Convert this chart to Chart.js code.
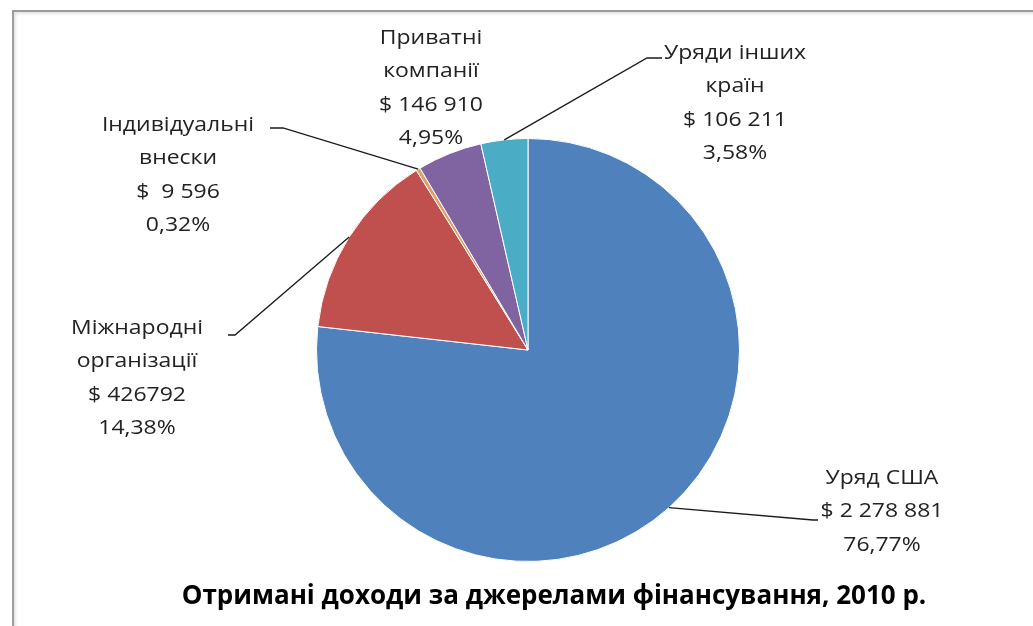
<!DOCTYPE html>
<html>
<head>
<meta charset="utf-8">
<script src="https://cdn.jsdelivr.net/npm/chart.js@4"></script>
<style>
  html, body { margin: 0; padding: 0; background: #fff; overflow: hidden; }
  #wrap { position: relative; width: 1033px; height: 626px; }
  #frame {
    position: absolute; left: 12px; top: 10px; width: 1100px; height: 700px;
    border-left: 2px solid #9c9c9c; border-top: 2px solid #9c9c9c;
    box-shadow: inset 2px 2px 3px #e4e4e4;
  }
  canvas { position: absolute; left: 0; top: 0; }
</style>
</head>
<body>
<div id="wrap">
  <div id="frame"></div>
  <canvas id="pieChart" width="1033" height="626"></canvas>
</div>
<script>
// Отримані доходи за джерелами фінансування, 2010 р.

var categories = [
  ['Уряд США'],
  ['Міжнародні', 'організації'],
  ['Індивідуальні', 'внески'],
  ['Приватні', 'компанії'],
  ['Уряди інших', 'країн']
];
var amounts = [2278881, 426792, 9596, 146910, 106211];
var amountLabels = ['$ 2 278 881', '$ 426792', '$  9 596', '$ 146 910', '$ 106 211'];
var sliceColors = ['#4f81bd', '#c0504d', '#dda068', '#8064a2', '#4bacc6'];

var chartTitle = 'Отримані доходи за джерелами фінансування, 2010 р.';

// where each label sits, relative to the pie centre (px)
// text: centre of first line, elbow/end: leader line bend and end
var labelPlace = [
  { text: [354, 128], elbow: [285, 170], end: [290, 170] },
  { text: [-391, -22], elbow: [-293, -15], end: [-300, -15] },
  { text: [-350, -225], elbow: [-245, -222], end: [-258, -222] },
  { text: [-97, -312] },
  { text: [207, -297], elbow: [119, -292], end: [134, -292] }
];

var total = amounts.reduce(function (a, b) { return a + b; }, 0);

function pct(v) {
  return (v / total * 100).toFixed(2).replace('.', ',') + '%';
}

var labelFont = '20.5px "Open Sans"';
var lineStep = 33.5;
var stretch = 1.12;

var pieLabels = {
  id: 'pieLabels',
  afterDraw: function (chart) {
    var ctx = chart.ctx;
    var arcs = chart.getDatasetMeta(0).data;
    ctx.save();
    arcs.forEach(function (arc, i) {
      var p = arc.getProps(['x', 'y', 'startAngle', 'endAngle', 'outerRadius'], true);
      var place = labelPlace[i];
      var mid = (p.startAngle + p.endAngle) / 2;

      if (place.elbow) {
        ctx.beginPath();
        ctx.strokeStyle = '#1a1a1a';
        ctx.lineWidth = 1.3;
        ctx.moveTo(p.x + Math.cos(mid) * p.outerRadius, p.y + Math.sin(mid) * p.outerRadius);
        ctx.lineTo(p.x + place.elbow[0], p.y + place.elbow[1]);
        ctx.lineTo(p.x + place.end[0], p.y + place.end[1]);
        ctx.stroke();
      }

      var lines = categories[i].concat([amountLabels[i], pct(amounts[i])]);
      ctx.font = labelFont;
      ctx.fillStyle = '#222222';
      ctx.textAlign = 'center';
      ctx.textBaseline = 'middle';
      lines.forEach(function (t, k) {
        ctx.save();
        ctx.translate(p.x + place.text[0], p.y + place.text[1] + k * lineStep);
        ctx.scale(stretch, 1);
        ctx.fillText(t, 0, 0);
        ctx.restore();
      });
    });

    // title under the pie
    ctx.font = 'bold 26px "Open Sans"';
    ctx.fillStyle = '#000';
    ctx.textAlign = 'center';
    ctx.textBaseline = 'middle';
    ctx.fillText(chartTitle, 554, 597);
    ctx.restore();
  }
};

new Chart(document.getElementById('pieChart'), {
  type: 'pie',
  data: {
    labels: categories.map(function (c) { return c.join(' '); }),
    datasets: [{
      data: amounts,
      backgroundColor: sliceColors,
      borderColor: '#ffffff',
      borderWidth: 1,
      hoverOffset: 0
    }]
  },
  options: {
    responsive: false,
    animation: false,
    events: [],
    layout: {
      padding: { left: 316, right: 293, top: 138, bottom: 64 }
    },
    plugins: {
      legend: { display: false },
      tooltip: { enabled: false },
      title: { display: false }
    }
  },
  plugins: [pieLabels]
});
</script>
</body>
</html>
